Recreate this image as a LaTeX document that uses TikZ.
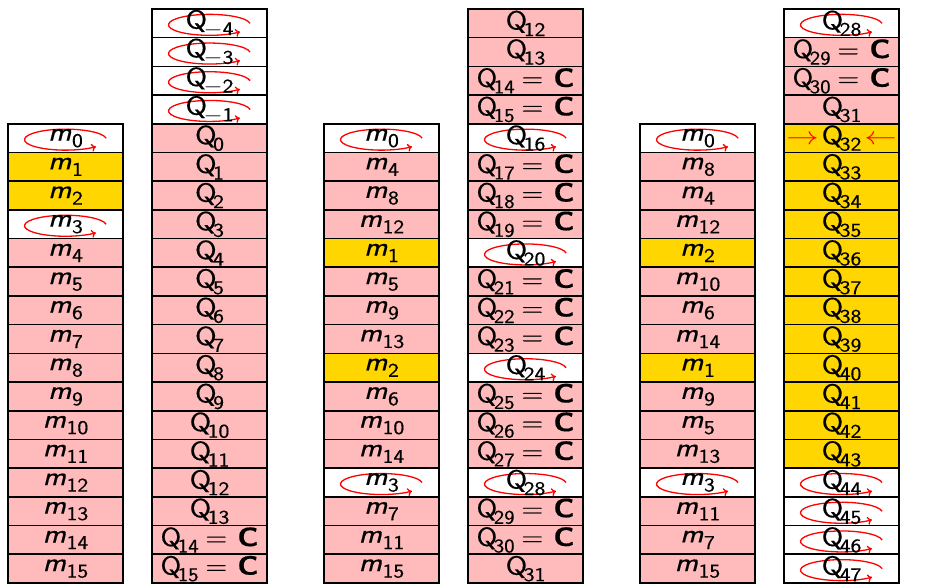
\documentclass[tikz,border=0pt]{standalone}
\usepackage{fontspec}
\setsansfont{Latin Modern Sans}[FakeBold=0.4]
\usetikzlibrary{arrows.meta}
\definecolor{pinkc}{RGB}{255,187,187}
\definecolor{goldc}{RGB}{255,214,0}
\newcommand{\subs}[1]{\raisebox{-6.5pt}{\fontsize{19.5}{19.5}\selectfont #1}}
\newcommand{\ml}[1]{\scalebox{1.18}[1]{\textit{m}\kern0.5pt\subs{#1}}}
\newcommand{\ql}[1]{\scalebox{1.18}[1]{Q\kern-3pt\subs{#1}}}
\newcommand{\qc}[1]{\scalebox{1.13}[1]{Q\kern-3pt\subs{#1}\kern6pt=\kern9pt\textbf{C}}}
\newcommand{\cellnode}[5]{\node[cell,#2] (#1) at (#3,{575-(#4-0.5)*28.7}) {#5};}
\tikzset{
 cell/.style={draw=black, line width=1.6pt, minimum width=115pt, minimum height=28.7pt, inner sep=0pt, font=\sffamily\fontsize{26.5}{26.5}\selectfont},
 pk/.style={fill=pinkc},
 ye/.style={fill=goldc},
 wl/.style={fill=white, path picture={\draw[red, line width=1.3pt, -{To[length=4.5pt,width=8pt]}] ([yshift=-1.5pt]path picture bounding box.center) ++(8:41pt and 10.5pt) arc[start angle=8,end angle=318,x radius=41pt,y radius=10.5pt];}},
}
\begin{document}
\begin{tikzpicture}[x=1pt,y=1pt]
\useasboundingbox[fill=white] (0,0) rectangle (930,584);
% column 1
\cellnode{a0}{wl}{65.5}{5}{\ml{0}}
\cellnode{a1}{ye}{65.5}{6}{\ml{1}}
\cellnode{a2}{ye}{65.5}{7}{\ml{2}}
\cellnode{a3}{wl}{65.5}{8}{\ml{3}}
\foreach \k in {4,...,15}{\cellnode{a\k}{pk}{65.5}{\k+5}{\ml{\k}}}
% column 2
\cellnode{bm4}{wl}{209.5}{1}{\ql{$-$4}}
\cellnode{bm3}{wl}{209.5}{2}{\ql{$-$3}}
\cellnode{bm2}{wl}{209.5}{3}{\ql{$-$2}}
\cellnode{bm1}{wl}{209.5}{4}{\ql{$-$1}}
\foreach \k in {0,...,13}{\cellnode{b\k}{pk}{209.5}{\k+5}{\ql{\k}}}
\cellnode{b14}{pk}{209.5}{19}{\qc{14}}
\cellnode{b15}{pk}{209.5}{20}{\qc{15}}
% column 3
\cellnode{c0}{wl}{381.5}{5}{\ml{0}}
\cellnode{c4}{pk}{381.5}{6}{\ml{4}}
\cellnode{c8}{pk}{381.5}{7}{\ml{8}}
\cellnode{c12}{pk}{381.5}{8}{\ml{12}}
\cellnode{c1}{ye}{381.5}{9}{\ml{1}}
\cellnode{c5}{pk}{381.5}{10}{\ml{5}}
\cellnode{c9}{pk}{381.5}{11}{\ml{9}}
\cellnode{c13}{pk}{381.5}{12}{\ml{13}}
\cellnode{c2}{ye}{381.5}{13}{\ml{2}}
\cellnode{c6}{pk}{381.5}{14}{\ml{6}}
\cellnode{c10}{pk}{381.5}{15}{\ml{10}}
\cellnode{c14}{pk}{381.5}{16}{\ml{14}}
\cellnode{c3}{wl}{381.5}{17}{\ml{3}}
\cellnode{c7}{pk}{381.5}{18}{\ml{7}}
\cellnode{c11}{pk}{381.5}{19}{\ml{11}}
\cellnode{c15}{pk}{381.5}{20}{\ml{15}}
% column 4
\cellnode{d12}{pk}{525.5}{1}{\ql{12}}
\cellnode{d13}{pk}{525.5}{2}{\ql{13}}
\cellnode{d14}{pk}{525.5}{3}{\qc{14}}
\cellnode{d15}{pk}{525.5}{4}{\qc{15}}
\cellnode{d16}{wl}{525.5}{5}{\ql{16}}
\cellnode{d17}{pk}{525.5}{6}{\qc{17}}
\cellnode{d18}{pk}{525.5}{7}{\qc{18}}
\cellnode{d19}{pk}{525.5}{8}{\qc{19}}
\cellnode{d20}{wl}{525.5}{9}{\ql{20}}
\cellnode{d21}{pk}{525.5}{10}{\qc{21}}
\cellnode{d22}{pk}{525.5}{11}{\qc{22}}
\cellnode{d23}{pk}{525.5}{12}{\qc{23}}
\cellnode{d24}{wl}{525.5}{13}{\ql{24}}
\cellnode{d25}{pk}{525.5}{14}{\qc{25}}
\cellnode{d26}{pk}{525.5}{15}{\qc{26}}
\cellnode{d27}{pk}{525.5}{16}{\qc{27}}
\cellnode{d28}{wl}{525.5}{17}{\ql{28}}
\cellnode{d29}{pk}{525.5}{18}{\qc{29}}
\cellnode{d30}{pk}{525.5}{19}{\qc{30}}
\cellnode{d31}{pk}{525.5}{20}{\ql{31}}
% column 5
\cellnode{e0}{wl}{697.5}{5}{\ml{0}}
\cellnode{e8}{pk}{697.5}{6}{\ml{8}}
\cellnode{e4}{pk}{697.5}{7}{\ml{4}}
\cellnode{e12}{pk}{697.5}{8}{\ml{12}}
\cellnode{e2}{ye}{697.5}{9}{\ml{2}}
\cellnode{e10}{pk}{697.5}{10}{\ml{10}}
\cellnode{e6}{pk}{697.5}{11}{\ml{6}}
\cellnode{e14}{pk}{697.5}{12}{\ml{14}}
\cellnode{e1}{ye}{697.5}{13}{\ml{1}}
\cellnode{e9}{pk}{697.5}{14}{\ml{9}}
\cellnode{e5}{pk}{697.5}{15}{\ml{5}}
\cellnode{e13}{pk}{697.5}{16}{\ml{13}}
\cellnode{e3}{wl}{697.5}{17}{\ml{3}}
\cellnode{e11}{pk}{697.5}{18}{\ml{11}}
\cellnode{e7}{pk}{697.5}{19}{\ml{7}}
\cellnode{e15}{pk}{697.5}{20}{\ml{15}}
% column 6
\cellnode{f28}{wl}{841.5}{1}{\ql{28}}
\cellnode{f29}{pk}{841.5}{2}{\qc{29}}
\cellnode{f30}{pk}{841.5}{3}{\qc{30}}
\cellnode{f31}{pk}{841.5}{4}{\ql{31}}
\cellnode{f32}{ye}{841.5}{5}{\scalebox{1.3}[1]{\color{red}$\rightarrow$}\kern3pt\ql{32}\kern3pt\scalebox{1.3}[1]{\color{red}$\leftarrow$}}
\foreach \k in {33,...,43}{\cellnode{f\k}{ye}{841.5}{\k-27}{\ql{\k}}}
\foreach \k in {44,...,47}{\cellnode{f\k}{wl}{841.5}{\k-27}{\ql{\k}}}
\end{tikzpicture}
\end{document}
